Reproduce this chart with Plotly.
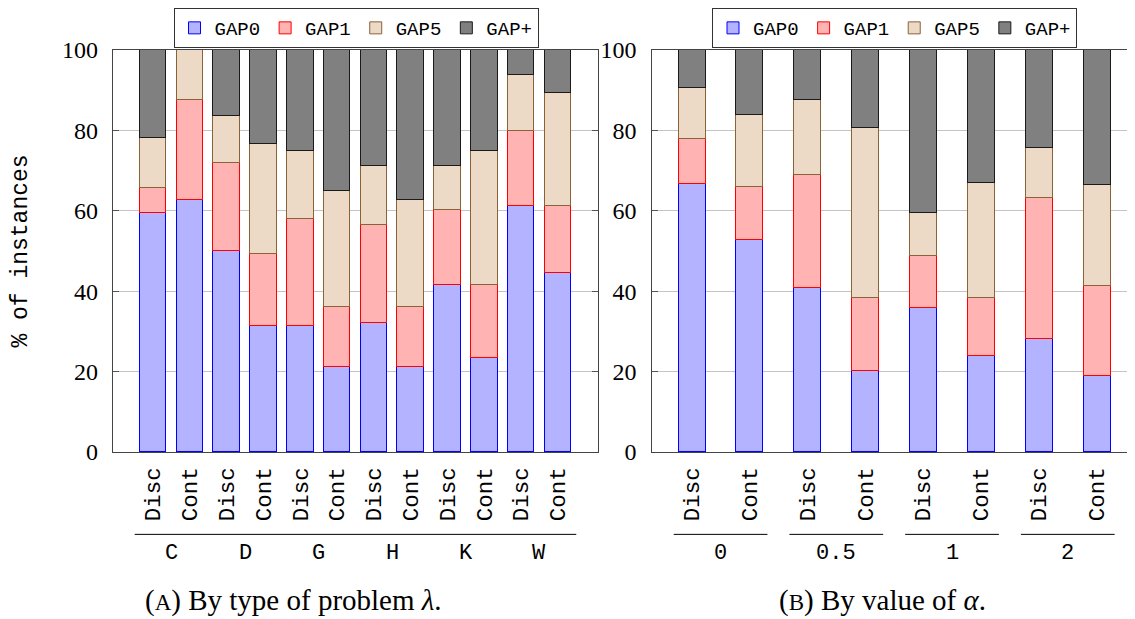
import plotly.graph_objects as go
import numpy as np

# ---------------- data (percent of instances, per stacked segment) ----------------
series_names = ["GAP0", "GAP1", "GAP5", "GAP+"]
variants = ["Disc", "Cont"]

lambda_groups = ["C", "D", "G", "H", "K", "W"]
gap0_lambda = [59.4, 62.6, 50.1, 31.3, 31.3, 21.1, 32.1, 21.1, 41.5, 23.5, 61.1, 44.6]
gap1_lambda = [6.3, 25.0, 21.9, 18.0, 26.6, 14.9, 24.3, 14.9, 18.8, 18.0, 18.8, 16.5]
gap5_lambda = [12.5, 12.4, 11.7, 27.3, 17.1, 28.9, 14.8, 26.6, 10.9, 33.5, 14.0, 28.1]
gapp_lambda = [21.8, 0.0, 16.3, 23.4, 25.0, 35.1, 28.8, 37.4, 28.8, 25.0, 6.1, 10.8]

alpha_groups = ["0", "0.5", "1", "2"]
gap0_alpha = [66.7, 52.7, 40.7, 20.1, 35.7, 23.8, 28.2, 18.8]
gap1_alpha = [11.1, 13.1, 28.1, 18.1, 13.1, 14.4, 35.1, 22.5]
gap5_alpha = [12.8, 18.1, 18.8, 42.5, 10.7, 28.7, 12.4, 25.0]
gapp_alpha = [9.4, 16.1, 12.4, 19.3, 40.5, 33.1, 24.3, 33.7]

y_ticks = [0, 20, 40, 60, 80, 100]

# ---------------- styling ----------------
fills = ["#b3b3ff", "#ffb3b3", "#ecd9c6", "#808080"]
edges = ["#0000ff", "#ff0000", "#8a6238", "#1a1a1a"]
MONO = "Liberation Mono"
SERIF = "Liberation Serif"

# the page body adds an 8px margin; work in window pixels and shift
OFF = 8
W, H = 1135 - OFF, 619 - OFF
L, R, T, B = 113.3 - OFF, 1135.0 - OFF, 50.0 - OFF, 451.7 - OFF


def px_x(p):
    return (p - OFF - L) / (R - L)


def px_y(p):
    return (B - (p - OFF)) / (B - T)


fig = go.Figure()

lam_sets = [gap0_lambda, gap1_lambda, gap5_lambda, gapp_lambda]
alp_sets = [gap0_alpha, gap1_alpha, gap5_alpha, gapp_alpha]
x_lam = np.arange(len(gap0_lambda))
x_alp = np.arange(len(gap0_alpha))

for i, name in enumerate(series_names):
    fig.add_trace(go.Bar(
        x=x_lam, y=lam_sets[i], name=name, width=0.725,
        marker=dict(color=fills[i], line=dict(color=edges[i], width=1)),
        xaxis="x", yaxis="y", legend="legend",
    ))
for i, name in enumerate(series_names):
    fig.add_trace(go.Bar(
        x=x_alp, y=alp_sets[i], name=name, width=0.467,
        marker=dict(color=fills[i], line=dict(color=edges[i], width=1)),
        xaxis="x2", yaxis="y2", legend="legend2",
    ))

lam_ticktext = [v for g in lambda_groups for v in variants]
alp_ticktext = [v for g in alpha_groups for v in variants]

common_x = dict(
    showline=True, linecolor="#444", linewidth=1.3, mirror=True,
    ticks="", showgrid=False, zeroline=False, tickangle=-90,
    tickfont=dict(family=MONO, size=22.5, color="black"),
    ticklabelstandoff=5,
)
common_y = dict(
    range=[0, 100], tickvals=y_ticks, showline=True, linecolor="#444", linewidth=1.3,
    ticks="inside", ticklen=6, tickcolor="#555", showgrid=True, gridcolor="#c4c4c4",
    gridwidth=1, zeroline=False,
    tickfont=dict(family=SERIF, size=24, color="black"), ticklabelstandoff=9,
)

fig.update_layout(
    width=W, height=H,
    margin=dict(l=L, r=W - R, t=T, b=H - B, pad=0, autoexpand=False),
    paper_bgcolor="white", plot_bgcolor="white",
    barmode="stack", bargap=0,
    xaxis=dict(domain=[0, px_x(598.3)], range=[-1.09, 12.095], automargin=False,
               tickvals=x_lam, ticktext=lam_ticktext, anchor="y", **common_x),
    xaxis2=dict(domain=[px_x(651.7), 1], range=[-0.693, 7.662], automargin=False,
                tickvals=x_alp, ticktext=alp_ticktext, anchor="y2", **common_x),
    yaxis=dict(domain=[0, 1], anchor="x", mirror="ticks", automargin=False,
               title=dict(text="% of instances", font=dict(family=MONO, size=23, color="black"),
                          standoff=28),
               **common_y),
    yaxis2=dict(domain=[0, 1], anchor="x2", mirror=False, automargin=False, **common_y),
    legend=dict(orientation="h", xref="container", yref="container",
                x=(356 - OFF) / W, y=1.0, xanchor="center", yanchor="top",
                bordercolor="#333", borderwidth=1, bgcolor="white",
                font=dict(family=MONO, size=19, color="black"), traceorder="normal"),
    legend2=dict(orientation="h", xref="container", yref="container",
                 x=(894.5 - OFF) / W, y=1.0, xanchor="center", yanchor="top",
                 bordercolor="#333", borderwidth=1, bgcolor="white",
                 font=dict(family=MONO, size=19, color="black"), traceorder="normal"),
    showlegend=True,
)

shapes = []
annotations = []
line_y = px_y(534)
label_y = px_y(553)

# left panel: one continuous group rule, group labels under each pair
shapes.append(dict(type="line", xref="x", yref="paper", x0=-0.5, x1=len(x_lam) - 0.5,
                   y0=line_y, y1=line_y, line=dict(color="black", width=1)))
for gi, g in enumerate(lambda_groups):
    annotations.append(dict(xref="x", yref="paper", x=2 * gi + 0.5, y=label_y, text=g,
                            showarrow=False, xanchor="center", yanchor="middle",
                            font=dict(family=MONO, size=22, color="black")))

# right panel: separate rules per group
for gi, g in enumerate(alpha_groups):
    c = 2 * gi + 0.5
    shapes.append(dict(type="line", xref="x2", yref="paper", x0=c - 0.81, x1=c + 0.81,
                       y0=line_y, y1=line_y, line=dict(color="black", width=1)))
    annotations.append(dict(xref="x2", yref="paper", x=c, y=label_y, text=g,
                            showarrow=False, xanchor="center", yanchor="middle",
                            font=dict(family=MONO, size=22, color="black")))

# captions
annotations.append(dict(xref="paper", yref="paper", x=px_x(293.5), y=px_y(600),
                        text="(<span style='font-size:23px'>A</span>) By type of problem <i>λ</i>.",
                        showarrow=False, xanchor="center", yanchor="middle",
                        font=dict(family=SERIF, size=29, color="black")))
annotations.append(dict(xref="paper", yref="paper", x=px_x(882.5), y=px_y(600),
                        text="(<span style='font-size:23px'>B</span>) By value of <i>α</i>.",
                        showarrow=False, xanchor="center", yanchor="middle",
                        font=dict(family=SERIF, size=29, color="black")))

fig.update_layout(shapes=shapes, annotations=annotations)
fig.write_html("out.html")
